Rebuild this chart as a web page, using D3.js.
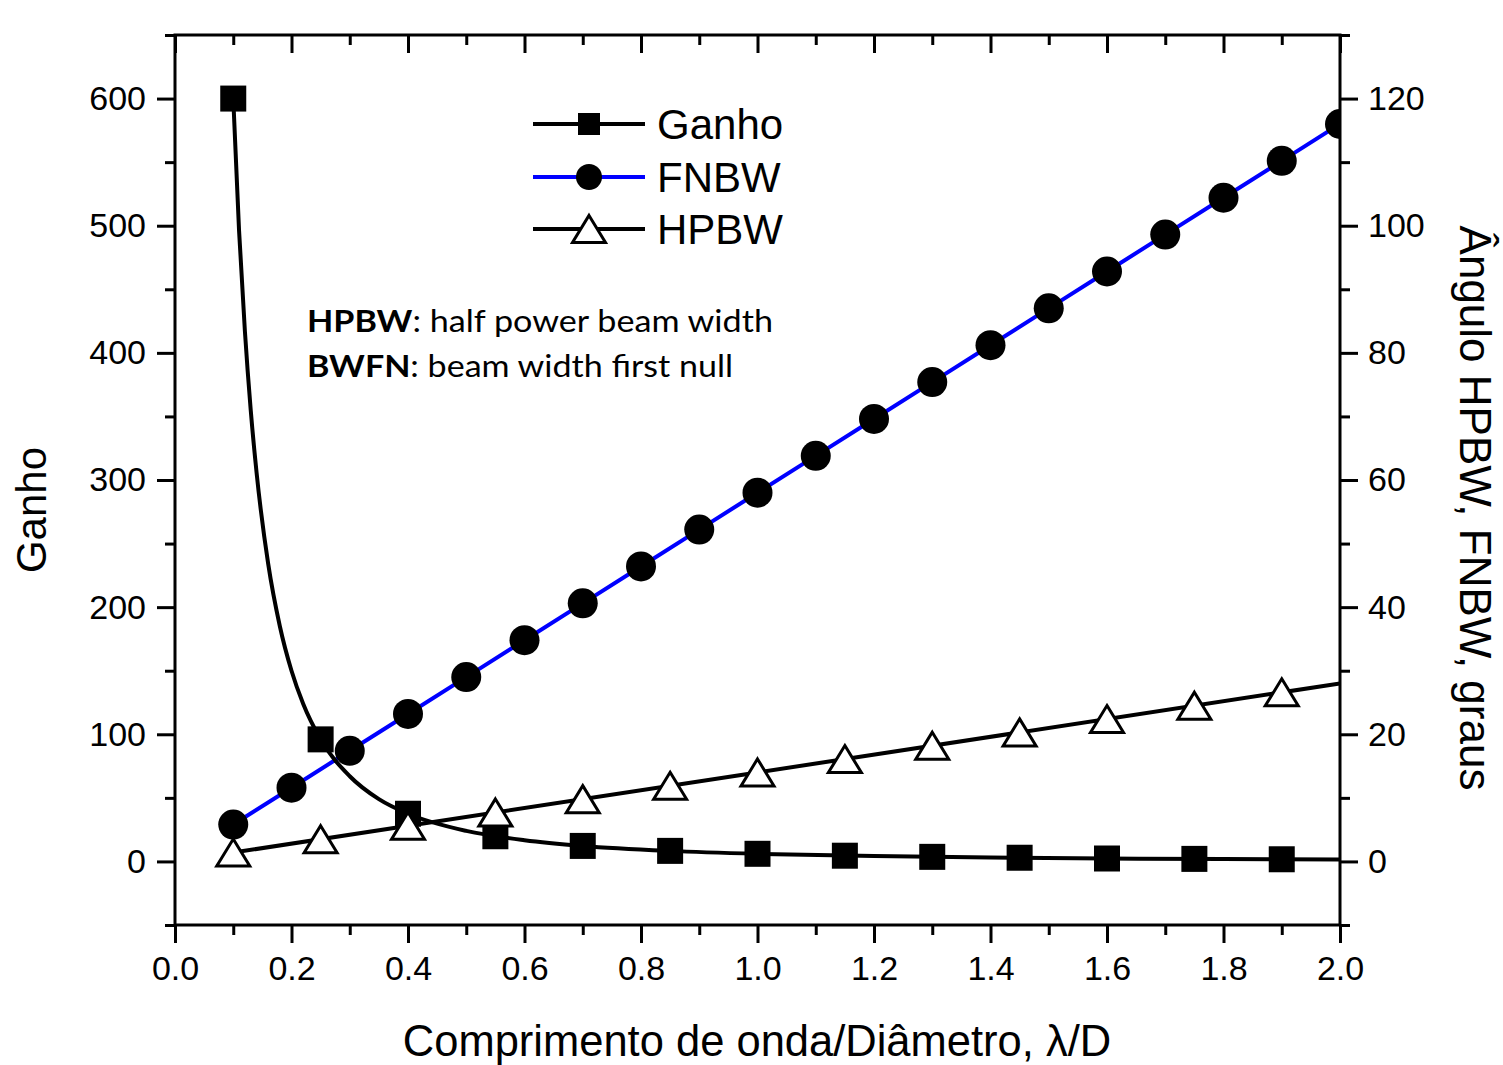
<!DOCTYPE html>
<html><head><meta charset="utf-8">
<script src="https://cdn.jsdelivr.net/npm/d3@7"></script>
<style>
body{margin:0;background:#fff;}
svg{display:block;}
text{font-family:"Liberation Sans",Arial,sans-serif;fill:#000;}
</style></head>
<body><svg id="chart" width="1503" height="1065"></svg>
<script>
// ---- data ----
const ganhoX = [0.1,0.25,0.4,0.55,0.7,0.85,1.0,1.15,1.3,1.45,1.6,1.75,1.9];
const ganhoY = [600,96,37.5,19.8,12.2,8.3,6.0,4.5,3.6,2.9,2.3,2.0,1.7];
// points
const ganhoCurveX = [0.1,0.11,0.12,0.13,0.14,0.16,0.18,0.2,0.22,0.25,0.3,0.35,0.4,0.5,0.6,0.7,0.85,1.0,1.2,1.4,1.6,1.8,2.0];
const ganhoCurveY = [600,496,417,355,306,234,185,150,124,96,67,49,37.5,24,16.7,12.2,8.3,6.0,4.2,3.1,2.3,1.85,1.5];
const fnbwX = [0.1,0.2,0.3,0.4,0.5,0.6,0.7,0.8,0.9,1.0,1.1,1.2,1.3,1.4,1.5,1.6,1.7,1.8,1.9,2.0];
const fnbwY = [5.8,11.6,17.4,23.2,29.0,34.8,40.6,46.4,52.2,58.0,63.8,69.6,75.4,81.2,87.0,92.8,98.6,104.4,110.2,116.0];
const hpbwX = [0.1,0.25,0.4,0.55,0.7,0.85,1.0,1.15,1.3,1.45,1.6,1.75,1.9];
const hpbwY = [1.4,3.5,5.6,7.7,9.8,11.9,14.0,16.1,18.2,20.3,22.4,24.5,26.6];
const hpbwLineX = [0.1,1.0,2.0];
const hpbwLineY = [1.4,14.0,28.0];
const xTicks = [0,0.2,0.4,0.6,0.8,1.0,1.2,1.4,1.6,1.8,2.0];
const yLeftTicks = [0,100,200,300,400,500,600];
const yRightTicks = [0,20,40,60,80,100,120];
const legendNames = ["Ganho","FNBW","HPBW"];
const noteLines = [["HPBW",": half power beam width"],["BWFN",": beam width first null"]];

// ---- layout ----
const L=175, R=1340, T=35, B=925;
const svg = d3.select("#chart");
const x = d3.scaleLinear().domain([0,2]).range([L,R]);
const yL = d3.scaleLinear().domain([-50,650]).range([B,T]);
const yR = d3.scaleLinear().domain([-10,130]).range([B,T]);

svg.append("defs").append("clipPath").attr("id","clip")
  .append("rect").attr("x",L).attr("y",T).attr("width",R-L).attr("height",B-T);

function styleAxis(g){
  g.selectAll(".domain").remove();
  g.selectAll(".tick line").attr("stroke","#000").attr("stroke-width",3);
  g.selectAll(".tick text").style("font-size","34px").style("font-family","Liberation Sans, Arial, sans-serif").attr("fill","#000");
}
const fmt1 = d3.format(".1f");
const xMinor = d3.range(0.1,2.0,0.2);
// bottom axis
svg.append("g").attr("transform",`translate(0,${B})`)
  .call(d3.axisBottom(x).tickValues(xTicks).tickFormat(fmt1).tickSize(18).tickPadding(13))
  .call(styleAxis);
svg.append("g").attr("transform",`translate(0,${B})`)
  .call(d3.axisBottom(x).tickValues(xMinor).tickFormat("").tickSize(10)).call(styleAxis);
// top axis (inward)
svg.append("g").attr("transform",`translate(0,${T})`)
  .call(d3.axisBottom(x).tickValues(xTicks).tickFormat("").tickSize(18)).call(styleAxis);
svg.append("g").attr("transform",`translate(0,${T})`)
  .call(d3.axisBottom(x).tickValues(xMinor).tickFormat("").tickSize(10)).call(styleAxis);
// left axis
svg.append("g").attr("transform",`translate(${L},0)`)
  .call(d3.axisLeft(yL).tickValues(yLeftTicks).tickSize(18).tickPadding(11))
  .call(styleAxis);
svg.append("g").attr("transform",`translate(${L},0)`)
  .call(d3.axisLeft(yL).tickValues(d3.range(-50,651,100)).tickFormat("").tickSize(10)).call(styleAxis);
// right axis
svg.append("g").attr("transform",`translate(${R},0)`)
  .call(d3.axisRight(yR).tickValues(yRightTicks).tickSize(18).tickPadding(10))
  .call(styleAxis);
svg.append("g").attr("transform",`translate(${R},0)`)
  .call(d3.axisRight(yR).tickValues(d3.range(-10,131,20)).tickFormat("").tickSize(10)).call(styleAxis);

// ---- series ----
const plot = svg.append("g").attr("clip-path","url(#clip)");
const ganhoCurve = ganhoCurveX.map((v,i)=>[v,ganhoCurveY[i]]);
const fnbw = fnbwX.map((v,i)=>[v,fnbwY[i]]);
const hpbw = hpbwX.map((v,i)=>[v,hpbwY[i]]);
const hpbwLine = hpbwLineX.map((v,i)=>[v,hpbwLineY[i]]);
const ganho = ganhoX.map((v,i)=>[v,ganhoY[i]]);

plot.append("path").datum(fnbw)
  .attr("d",d3.line().x(d=>x(d[0])).y(d=>yR(d[1])))
  .attr("fill","none").attr("stroke","#0000ff").attr("stroke-width",4);
plot.append("path").datum(ganhoCurve)
  .attr("d",d3.line().curve(d3.curveMonotoneX).x(d=>x(d[0])).y(d=>yL(d[1])))
  .attr("fill","none").attr("stroke","#000").attr("stroke-width",4);
plot.append("path").datum(hpbwLine)
  .attr("d",d3.line().x(d=>x(d[0])).y(d=>yR(d[1])))
  .attr("fill","none").attr("stroke","#000").attr("stroke-width",4);

const sq=26, circR=15, triW=33, triH=27;
const triPath = `M0,${-triH/2}L${triW/2},${triH/2}L${-triW/2},${triH/2}Z`;
plot.selectAll(".sq").data(ganho).join("rect")
  .attr("x",d=>x(d[0])-sq/2).attr("y",d=>yL(d[1])-sq/2)
  .attr("width",sq).attr("height",sq).attr("fill","#000");
plot.selectAll(".ci").data(fnbw).join("circle")
  .attr("cx",d=>x(d[0])).attr("cy",d=>yR(d[1])).attr("r",circR).attr("fill","#000");
plot.selectAll(".tr").data(hpbw).join("path")
  .attr("d",triPath).attr("transform",d=>`translate(${x(d[0])},${yR(d[1])})`)
  .attr("fill","#fff").attr("stroke","#000").attr("stroke-width",3);

// frame
svg.append("rect").attr("x",L).attr("y",T).attr("width",R-L).attr("height",B-T)
  .attr("fill","none").attr("stroke","#000").attr("stroke-width",3);

// ---- axis titles ----
svg.append("text").attr("x",(404+1110)/2).attr("y",1056).attr("text-anchor","middle")
  .style("font-size","43.5px").text("Comprimento de onda/Diâmetro, λ/D");
svg.append("text").attr("transform","translate(46,510) rotate(-90)").attr("text-anchor","middle")
  .style("font-size","42px").text("Ganho");
svg.append("text").attr("transform","translate(1460,508) rotate(90)").attr("text-anchor","middle")
  .style("font-size","44px").text("Ângulo HPBW, FNBW, graus");

// ---- legend ----
const legY = [124,177,229];
const lg = svg.append("g");
legendNames.forEach((n,i)=>{
  const y=legY[i];
  lg.append("line").attr("x1",533).attr("x2",645).attr("y1",y).attr("y2",y)
    .attr("stroke", i===1?"#0000ff":"#000").attr("stroke-width",4);
  if(i===0) lg.append("rect").attr("x",589-11).attr("y",y-11).attr("width",22).attr("height",22).attr("fill","#000");
  if(i===1) lg.append("circle").attr("cx",589).attr("cy",y).attr("r",13).attr("fill","#000");
  if(i===2) lg.append("path").attr("d",triPath).attr("transform",`translate(589,${y})`)
    .attr("fill","#fff").attr("stroke","#000").attr("stroke-width",3);
  lg.append("text").attr("x",657).attr("y",y+15).style("font-size","42px").text(n);
});

// ---- note ----
const noteY=[332,377], noteW=[466,426];
noteLines.forEach((ln,i)=>{
  const t = svg.append("text").attr("x",307).attr("y",noteY[i])
    .style("font-family","Lato, 'Open Sans', sans-serif").style("font-size","31px")
    .attr("textLength",noteW[i]).attr("lengthAdjust","spacingAndGlyphs");
  t.append("tspan").style("font-weight","bold").text(ln[0]);
  t.append("tspan").text(ln[1]);
});
</script></body></html>
